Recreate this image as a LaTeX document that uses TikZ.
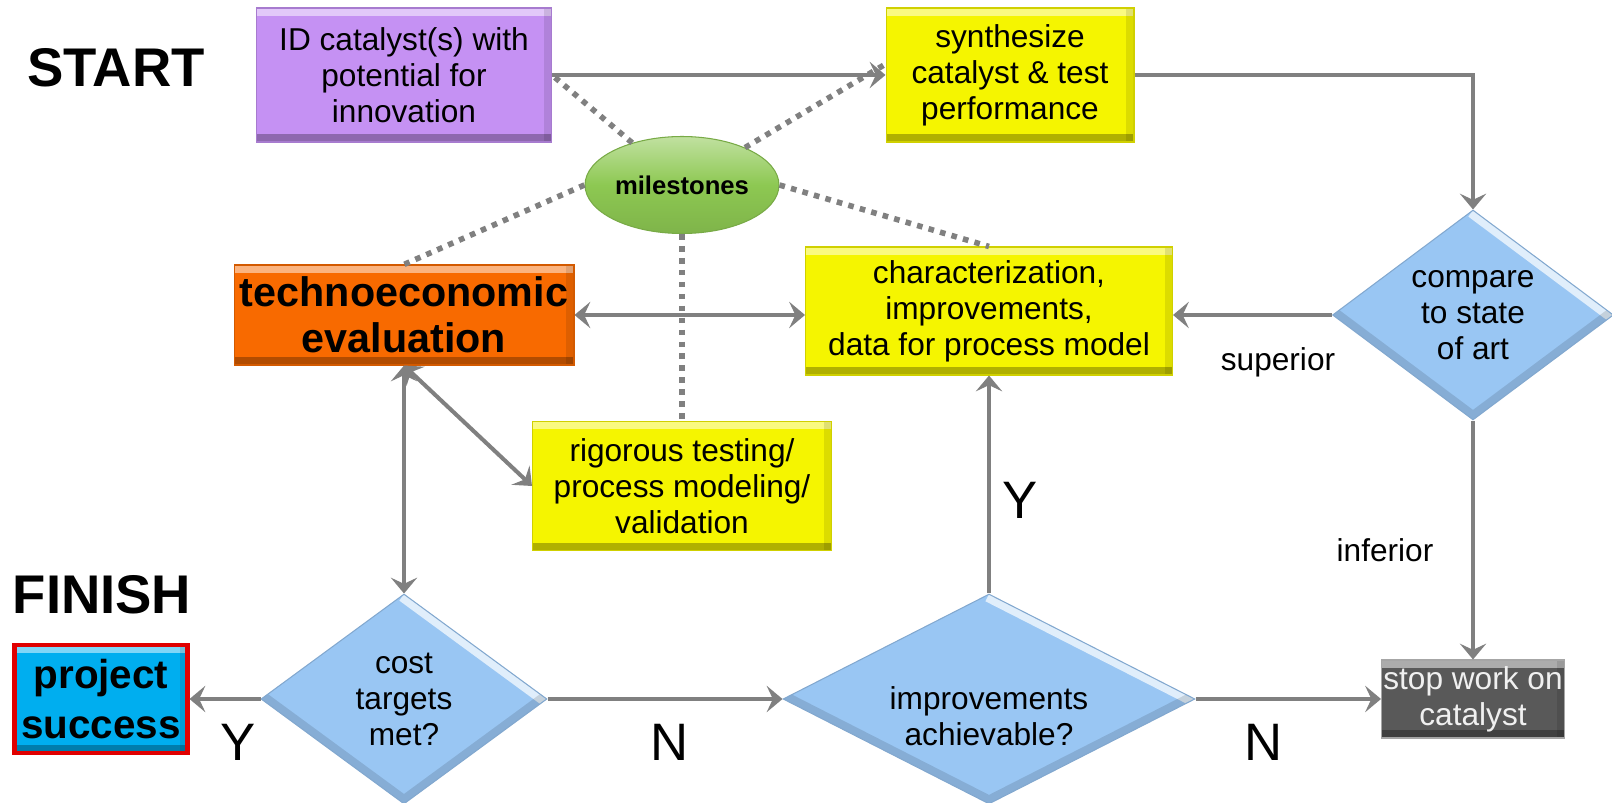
\documentclass[tikz,border=0pt]{standalone}
\usepackage{fontspec}
\setmainfont{Liberation Sans}
\usetikzlibrary{arrows.meta,shapes.geometric}

\definecolor{idpurple}{HTML}{C591F3}
\definecolor{stepyellow}{HTML}{F5F500}
\definecolor{teorange}{HTML}{F86A00}
\definecolor{msgreen}{HTML}{8DC852}
\definecolor{qblue}{HTML}{99C6F3}
\definecolor{okcyan}{HTML}{00AEEF}
\definecolor{okred}{HTML}{E00000}
\definecolor{stopgray}{HTML}{595959}
\definecolor{linegray}{HTML}{808080}

\tikzset{
	bevel/.style={path picture={
		\draw[white, opacity=0.5, line width=9pt] (path picture bounding box.north west) -- (path picture bounding box.north east);
		\draw[black, opacity=0.28, line width=9pt] (path picture bounding box.south west) -- (path picture bounding box.south east);
		\draw[black, opacity=0.1, line width=9pt] (path picture bounding box.north east) -- (path picture bounding box.south east);
	}},
	qbevel/.style={path picture={
		\draw[white, opacity=0.7, line width=9pt] (path picture bounding box.north) -- (path picture bounding box.east);
		\draw[black, opacity=0.12, line width=9pt] (path picture bounding box.west) -- (path picture bounding box.south) -- (path picture bounding box.east);
	}},
	box/.style={rectangle, fill=#1, draw=#1!85!black, line width=0.6pt, align=center, inner sep=0pt, bevel,
		font=\fontsize{18}{20.5}\selectfont},
	query/.style={diamond, fill=qblue, draw=qblue!85!black, line width=0.6pt, align=center, inner sep=0pt, qbevel,
		font=\fontsize{18}{20.5}\selectfont},
	flow/.style={draw=linegray, line width=2.3pt, -{Stealth[length=9pt, width=15pt, inset=3.5pt]}},
	flowboth/.style={flow, {Stealth[length=9pt, width=15pt, inset=3.5pt]}-{Stealth[length=9pt, width=15pt, inset=3.5pt]}},
	msline/.style={draw=linegray, line width=3.2pt, dash pattern=on 3.2pt off 3.6pt},
	lbl/.style={font=\fontsize{18}{20.5}\selectfont},
	yn/.style={font=\fontsize{30}{34}\selectfont},
	big/.style={font=\fontsize{31}{36}\selectfont\bfseries}
}

\begin{document}
\begin{tikzpicture}[x=0.02cm, y=-0.02cm]
	%%%%% START %%%%%
	\useasboundingbox (0,0) rectangle (1612,803);
	
	\node[big] (start) at (116,68) {START};
	\node[big] (finish) at (102,595) {FINISH};
	
	% steps
	\node[box=idpurple, minimum width=5.9cm, minimum height=2.68cm] (idcat) at (404,75) {ID catalyst(s) with\\potential for\\innovation};
	\node[box=stepyellow, minimum width=4.96cm, minimum height=2.68cm] (syn) at (1010,75) {synthesize\\catalyst \& test\\performance};
	\node[box=teorange, minimum width=6.8cm, minimum height=2.0cm, font=\fontsize{23.5}{26}\selectfont\bfseries] (te) at (404,315) {technoeconomic\\evaluation};
	\node[box=stepyellow, minimum width=7.34cm, minimum height=2.56cm] (char) at (989,311) {characterization,\\improvements,\\data for process model};
	\node[box=stepyellow, minimum width=5.98cm, minimum height=2.58cm] (rig) at (682,486) {rigorous testing/\\process modeling/\\validation};
	\node[ellipse, top color=msgreen!55!white, bottom color=msgreen!90!black, middle color=msgreen, draw=msgreen!85!black, line width=0.6pt,
		minimum width=3.88cm, minimum height=1.94cm, inner sep=0pt,
		font=\fontsize{14.6}{17}\selectfont\bfseries] (ms) at (682,185) {milestones};
	
	% decisions
	\node[query, aspect=1.34, minimum width=5.62cm, minimum height=4.2cm] (cmp) at (1473,315) {compare\\to state\\of art};
	\node[query, aspect=1.36, minimum width=5.72cm, minimum height=4.2cm] (cost) at (404,699) {cost\\targets\\met?};
	\node[query, aspect=1.96, minimum width=8.24cm, minimum height=4.2cm,
		label={[lbl, align=center, yshift=-0.34cm]center:improvements\\achievable?}] (imp) at (989,699) {};
	
	% ends
	\node[box=stopgray, draw=gray!70, minimum width=3.66cm, minimum height=1.56cm, text=white!94!black] (stop) at (1473,699) {stop work on\\catalyst};
	\node[rectangle, fill=okcyan, draw=okred, line width=2.3pt, minimum width=3.46cm, minimum height=2.16cm, inner sep=0pt, align=center, bevel,
		font=\fontsize{23}{28}\selectfont\bfseries] (win) at (101,699) {project\\success};
	
	% milestones
	\draw[msline] (ms) -- (idcat.east);
	\draw[msline] (ms) -- (syn.175);
	\draw[msline] (ms.west) -- (te.north);
	\draw[msline] (ms.east) -- (char.north);
	\draw[msline] (ms.south) -- (rig.north);
	
	% flow
	\draw[flow] (idcat) -- (syn);
	\draw[flow] (syn.east) -| (cmp.north);
	\draw[flow] (cmp.west) -- (cmp.west -| char.east);
	\draw[flow] (cmp.south) -- (stop.north);
	\draw[flow] (imp.east) -- (stop.west);
	\draw[flow] (imp.north) -- (char.south);
	\draw[flow] (cost.east) -- (imp.west);
	\draw[flow] (cost.west) -- (win.east);
	\draw[flowboth] (te.east) -- (te.east -| char.west);
	\draw[flowboth] (te.south) -- (cost.north);
	\draw[flowboth] (te.south) -- (rig.west);
	
	% labels
	\node[lbl] (sup) at (1278,362) {superior};
	\node[lbl] (inf) at (1385,550) {inferior};
	\node[yn] (yes1) at (238,742) {Y};
	\node[yn] (no1) at (670,742) {N};
	\node[yn] (yes2) at (1020,500) {Y};
	\node[yn] (no2) at (1264,742) {N};
	
	%%%%% END %%%%%
\end{tikzpicture}
\end{document}
